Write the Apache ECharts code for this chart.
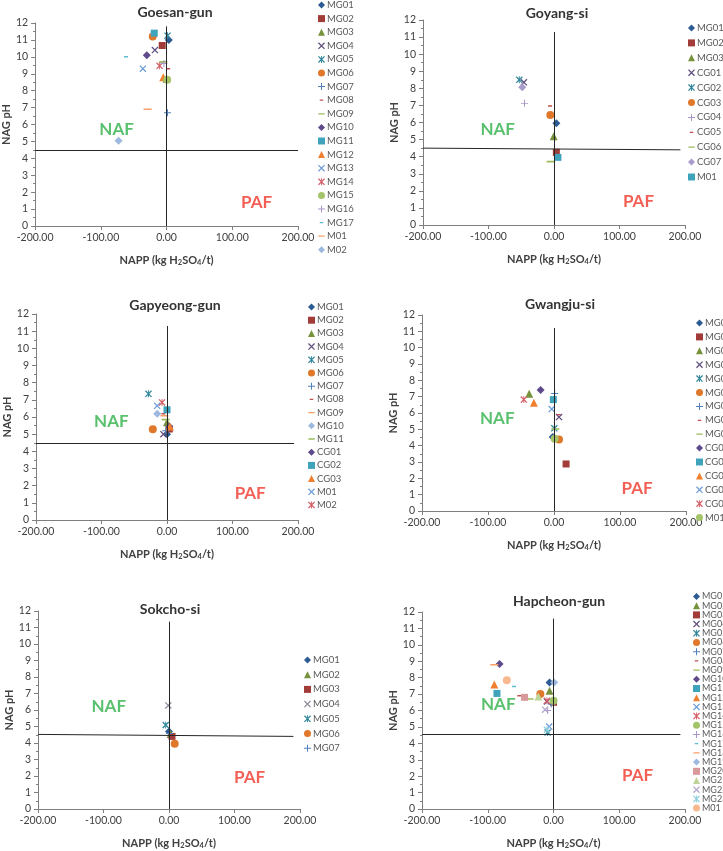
<!DOCTYPE html>
<html>
<head>
<meta charset="utf-8">
<script src="https://cdn.jsdelivr.net/npm/echarts@6/dist/echarts.min.js"></script>
<style>
  html, body { margin: 0; padding: 0; background: #fff; }
  #chart { width: 723px; height: 851px; }
</style>
</head>
<body>
<div id="chart"></div>
<script>
// ---- data (NAPP in kg H2SO4/t, NAG pH) ----
const goesanNames = ['MG01','MG02','MG03','MG04','MG05','MG06','MG07','MG08','MG09','MG10','MG11','MG12','MG13','MG14','MG15','MG16','MG17','M01','M02'];
const goesanNapp  = [3.5, -6.6, 0, -17.7, 1.5, -21, 1.5, 2.5, -5, -30, -18.7, -5, -36, -10.6, 1, -4, -61.6, -28.8, -73];
const goesanPh    = [11.0, 10.67, 8.7, 10.4, 11.25, 11.2, 6.7, 9.3, 9.7, 10.1, 11.4, 8.8, 9.3, 9.47, 8.65, 9.6, 10.0, 6.9, 5.04];

const goyangNames = ['MG01','MG02','MG03','CG01','CG02','CG03','CG04','CG05','CG06','CG07','M01'];
const goyangNapp  = [3.6, 3.6, -0.5, -46, -53, -5.6, -45, -6, -5, -48.5, 6];
const goyangPh    = [5.95, 4.25, 5.2, 8.35, 8.5, 6.44, 7.12, 6.97, 3.71, 8.06, 3.96];

const gapyeongNames = ['MG01','MG02','MG03','MG04','MG05','MG06','MG07','MG08','MG09','MG10','MG11','CG01','CG02','CG03','M01','M02'];
const gapyeongNapp  = [0, 3.5, 0, -5.5, -28.3, -21.7, -2, -5.5, -4, -15, -2, 3.5, 0, 4.5, -15, -7.6];
const gapyeongPh    = [5.0, 5.3, 5.7, 5.0, 7.35, 5.29, 5.2, 6.19, 6.07, 6.19, 5.85, 5.45, 6.42, 5.45, 6.65, 6.85];

const gwangjuNames = ['MG01','MG02','MG03','MG04','MG05','MG06','MG07','MG08','MG09','CG01','CG02','CG03','CG04','CG05','M01'];
const gwangjuNapp  = [-2, 18.3, -37.6, 7.6, 0.5, 7.6, 1, 7, 2, -20.3, -1, -30.5, -3.5, -45.7, 1];
const gwangjuPh    = [4.53, 2.88, 7.18, 5.75, 5.06, 4.37, 7.2, 5.9, 5.02, 7.41, 6.82, 6.63, 6.24, 6.82, 4.43];

const sokchoNames = ['MG01','MG02','MG03','MG04','MG05','MG06','MG07'];
const sokchoNapp  = [0, 2.5, 4.6, -1, -5, 8.7, 1];
const sokchoPh    = [4.7, 4.55, 4.4, 6.28, 5.09, 3.95, 4.58];

const hapcheonNames = ['MG01','MG02','MG03','MG04','MG05','MG06','MG07','MG08','MG09','MG10','MG11','MG12','MG13','MG14','MG15','MG16','MG17','MG18','MG19','MG20','MG21','MG22','MG23','M01'];
const hapcheonNapp  = [-6, -6, 0, -10, -9, -20, -3.5, -52, -36.5, -82, -86, -90, -6.6, -10, 0, -9, -60, -90, 1, -44, -23, -12.7, -10, -71];
const hapcheonPh    = [7.7, 7.2, 6.5, 6.55, 4.66, 7.0, 6.4, 6.9, 6.7, 8.83, 7.04, 7.58, 5.02, 6.59, 6.6, 6.0, 7.46, 8.79, 7.7, 6.8, 6.85, 6.05, 4.82, 7.84];

const xTicks = { min: -200, max: 200, step: 100 };
const yTicks = { min: 0, max: 12, step: 1 };

// ---- marker styles (Excel-like series cycle) ----
const FONT = 'Lato, "Open Sans", Arial, sans-serif';
const SYMBOLS = {
  diamond: 'diamond',
  square: 'rect',
  triangle: 'triangle',
  circle: 'circle',
  x: 'path://M0,1.3L1.3,0L10,8.7L8.7,10Z M8.7,0L10,1.3L1.3,10L0,8.7Z',
  star: 'path://M0,1.3L1.3,0L10,8.7L8.7,10Z M8.7,0L10,1.3L1.3,10L0,8.7Z M4.35,0H5.65V10H4.35Z',
  plus: 'path://M4.3,0H5.7V4.3H10V5.7H5.7V10H4.3V5.7H0V4.3H4.3Z',
  sdash: 'path://M0,0H0.05V0.05H0Z M9.95,9.95H10V10H9.95Z M2.5,4.1H7.5V5.9H2.5Z',
  ldash: 'path://M0,0H0.05V0.05H0Z M9.95,9.95H10V10H9.95Z M0.5,4.1H9.5V5.9H0.5Z'
};
const SIZES = { diamond: 8, square: 7, triangle: 8, circle: 8, x: 7, star: 7, plus: 7, sdash: 8, ldash: 9 };
const STYLE = [
  ['diamond', '#2C5B93'], ['square', '#A13C39'], ['triangle', '#76923C'], ['x', '#5F4E7E'],
  ['star', '#31869B'], ['circle', '#E0782B'], ['plus', '#4F81BD'], ['sdash', '#C0504D'],
  ['ldash', '#9BBB59'], ['diamond', '#5E4A8A'], ['square', '#3FA3BC'], ['triangle', '#F08030'],
  ['x', '#6F9DD9'], ['star', '#D4606A'], ['circle', '#A4C46A'], ['plus', '#A896C8'],
  ['sdash', '#5DBCD2'], ['ldash', '#F6A068'], ['diamond', '#9DB9DF'], ['square', '#D9999B'],
  ['triangle', '#C0D49A'], ['x', '#B3A5CC'], ['star', '#8FD0DF'], ['circle', '#F9B990'],
  ['diamond', '#A99BCB'], ['x', '#8C8C9E']
];
const seq = n => Array.from({ length: n }, (_, i) => i);
const goesanStyle = seq(19);
const goyangStyle = [0, 1, 2, 3, 4, 5, 15, 7, 8, 24, 10];
const gapyeongStyle = [0, 1, 2, 3, 4, 5, 6, 7, 17, 18, 8, 9, 10, 11, 12, 13];
const gwangjuStyle = seq(15);
const sokchoStyle = [0, 2, 1, 25, 4, 5, 6];
const hapcheonStyle = [0, 2, 1].concat(seq(24).slice(3));

// ---- panel layout ----
const PANELS = [
  { title: 'Goesan-gun', names: goesanNames, x: goesanNapp, y: goesanPh, styles: goesanStyle,
    grid: [35, 23, 263, 203], titleAt: [175, 12], legend: [318, 0, 3.6, 10, 9.5],
    hLine: [[-200, 4.5], [200, 4.5]], vTop: 11.8, naf: [-76, 5.7], paf: [137, 1.4] },
  { title: 'Goyang-si', names: goyangNames, x: goyangNapp, y: goyangPh, styles: goyangStyle,
    grid: [423, 20, 262, 205], titleAt: [557, 13], legend: [688, 23, 4.9, 10, 9.5],
    hLine: [[-200, 4.5], [193, 4.4]], vTop: 11.3, naf: [-86, 5.6], paf: [129, 1.37] },
  { title: 'Gapyeong-gun', names: gapyeongNames, x: gapyeongNapp, y: gapyeongPh, styles: gapyeongStyle,
    grid: [36, 314, 262, 206], titleAt: [175, 305], legend: [308, 302, 3.2, 10, 9.5],
    hLine: [[-200, 4.5], [194, 4.5]], vTop: 11.3, naf: [-85, 5.74], paf: [127, 1.52] },
  { title: 'Gwangju-si', names: gwangjuNames, x: gwangjuNapp, y: gwangjuPh, styles: gwangjuStyle,
    grid: [422, 315, 264, 196], titleAt: [560, 304], legend: [696, 318, 3.9, 10, 9.5],
    hLine: [[-200, 4.52], [203, 4.58]], vTop: 11.2, naf: [-86, 5.69], paf: [126, 1.4] },
  { title: 'Sokcho-si', names: sokchoNames, x: sokchoNapp, y: sokchoPh, styles: sokchoStyle,
    grid: [38, 611, 262, 202], titleAt: [170, 609], legend: [304, 655, 4.7, 10, 9.5],
    hLine: [[-200, 4.52], [190, 4.4]], vTop: 11.35, naf: [-92, 6.2], paf: [123, 1.93] },
  { title: 'Hapcheon-gun', names: hapcheonNames, x: hapcheonNapp, y: hapcheonPh, styles: hapcheonStyle,
    grid: [422, 612, 263, 201], titleAt: [559, 601], legend: [693, 592, 0.2, 9, 9],
    hLine: [[-200, 4.55], [193, 4.55]], vTop: 11.6, naf: [-84, 6.39], paf: [128, 2.04] }
];

const grids = [], xAxes = [], yAxes = [], series = [], legends = [], texts = [];

PANELS.forEach((p, pi) => {
  grids.push({ left: p.grid[0], top: p.grid[1], width: p.grid[2], height: p.grid[3] });

  xAxes.push({
    gridIndex: pi, type: 'value', min: xTicks.min, max: xTicks.max, interval: xTicks.step,
    name: 'NAPP (kg H{s|2}SO{s|4}/t)', nameLocation: 'middle', nameGap: 27,
    nameTextStyle: {
      fontFamily: FONT, fontSize: 11, fontWeight: 'bold', color: '#404040',
      rich: { s: { fontFamily: FONT, fontSize: 7.5, fontWeight: 'bold', color: '#404040', padding: [6, 0, 0, 0] } }
    },
    axisLine: { show: true, onZero: false, lineStyle: { color: '#7f7f7f', width: 1 } },
    axisTick: { show: true, length: 4, lineStyle: { color: '#7f7f7f' } },
    splitLine: { show: false },
    axisLabel: { formatter: v => v.toFixed(2), fontFamily: FONT, fontSize: 10.5, color: '#404040', margin: 6 }
  });

  yAxes.push({
    gridIndex: pi, type: 'value', min: yTicks.min, max: yTicks.max, interval: yTicks.step,
    name: 'NAG pH', nameLocation: 'middle', nameGap: 23, nameRotate: 90,
    nameTextStyle: { fontFamily: FONT, fontSize: 11, fontWeight: 'bold', color: '#404040' },
    axisLine: { show: true, onZero: false, lineStyle: { color: '#7f7f7f', width: 1 } },
    axisTick: { show: true, length: 4, lineStyle: { color: '#7f7f7f' } },
    minorTick: { show: true, splitNumber: 2, length: 2, lineStyle: { color: '#7f7f7f' } },
    splitLine: { show: false },
    axisLabel: { fontFamily: FONT, fontSize: 10.5, color: '#404040', margin: 7 }
  });

  p.names.forEach((n, i) => {
    const st = STYLE[p.styles[i]];
    series.push({
      type: 'scatter', name: pi + '|' + n, xAxisIndex: pi, yAxisIndex: pi,
      symbol: SYMBOLS[st[0]], symbolSize: SIZES[st[0]],
      itemStyle: { color: st[1], opacity: 1 },
      emphasis: { disabled: true },
      z: 3,
      data: [[p.x[i], p.y[i]]]
    });
  });

  // zone labels + the NAPP = 0 / pH 4.5 reference lines
  series.push({
    type: 'scatter', name: pi + '|zone', xAxisIndex: pi, yAxisIndex: pi,
    symbolSize: 0, silent: true, z: 1,
    label: { show: true, position: 'inside', formatter: '{b}', fontFamily: FONT, fontSize: 17, fontWeight: 'bold' },
    data: [
      { name: 'NAF', value: p.naf, label: { color: '#30B048' } },
      { name: 'PAF', value: p.paf, label: { color: '#F0372A' } }
    ],
    markLine: {
      silent: true, symbol: ['none', 'none'], animation: false,
      label: { show: false },
      lineStyle: { color: '#262626', type: 'solid', width: 1 },
      emphasis: { disabled: true },
      data: [
        [{ coord: p.hLine[0] }, { coord: p.hLine[1] }],
        [{ coord: [0, 0] }, { coord: [0, p.vTop] }]
      ]
    }
  });

  legends.push({
    orient: 'vertical', left: p.legend[0], top: p.legend[1], padding: 0,
    itemGap: p.legend[2], itemWidth: 7, itemHeight: 7, selectedMode: false,
    data: p.names.map(n => pi + '|' + n),
    formatter: name => name.split('|')[1],
    textStyle: { fontFamily: FONT, fontSize: p.legend[4], lineHeight: p.legend[3], color: '#595959', padding: [0, 0, 0, -3] }
  });

  texts.push({
    type: 'text', x: p.titleAt[0], y: p.titleAt[1], z: 10,
    style: { text: p.title, textAlign: 'center', textVerticalAlign: 'middle',
      font: 'bold 14px ' + FONT, fill: '#333333' }
  });
});

const chart = echarts.init(document.getElementById('chart'));
chart.setOption({
  animation: false,
  backgroundColor: '#ffffff',
  grid: grids,
  xAxis: xAxes,
  yAxis: yAxes,
  legend: legends,
  graphic: texts,
  series: series
});
</script>
</body>
</html>
